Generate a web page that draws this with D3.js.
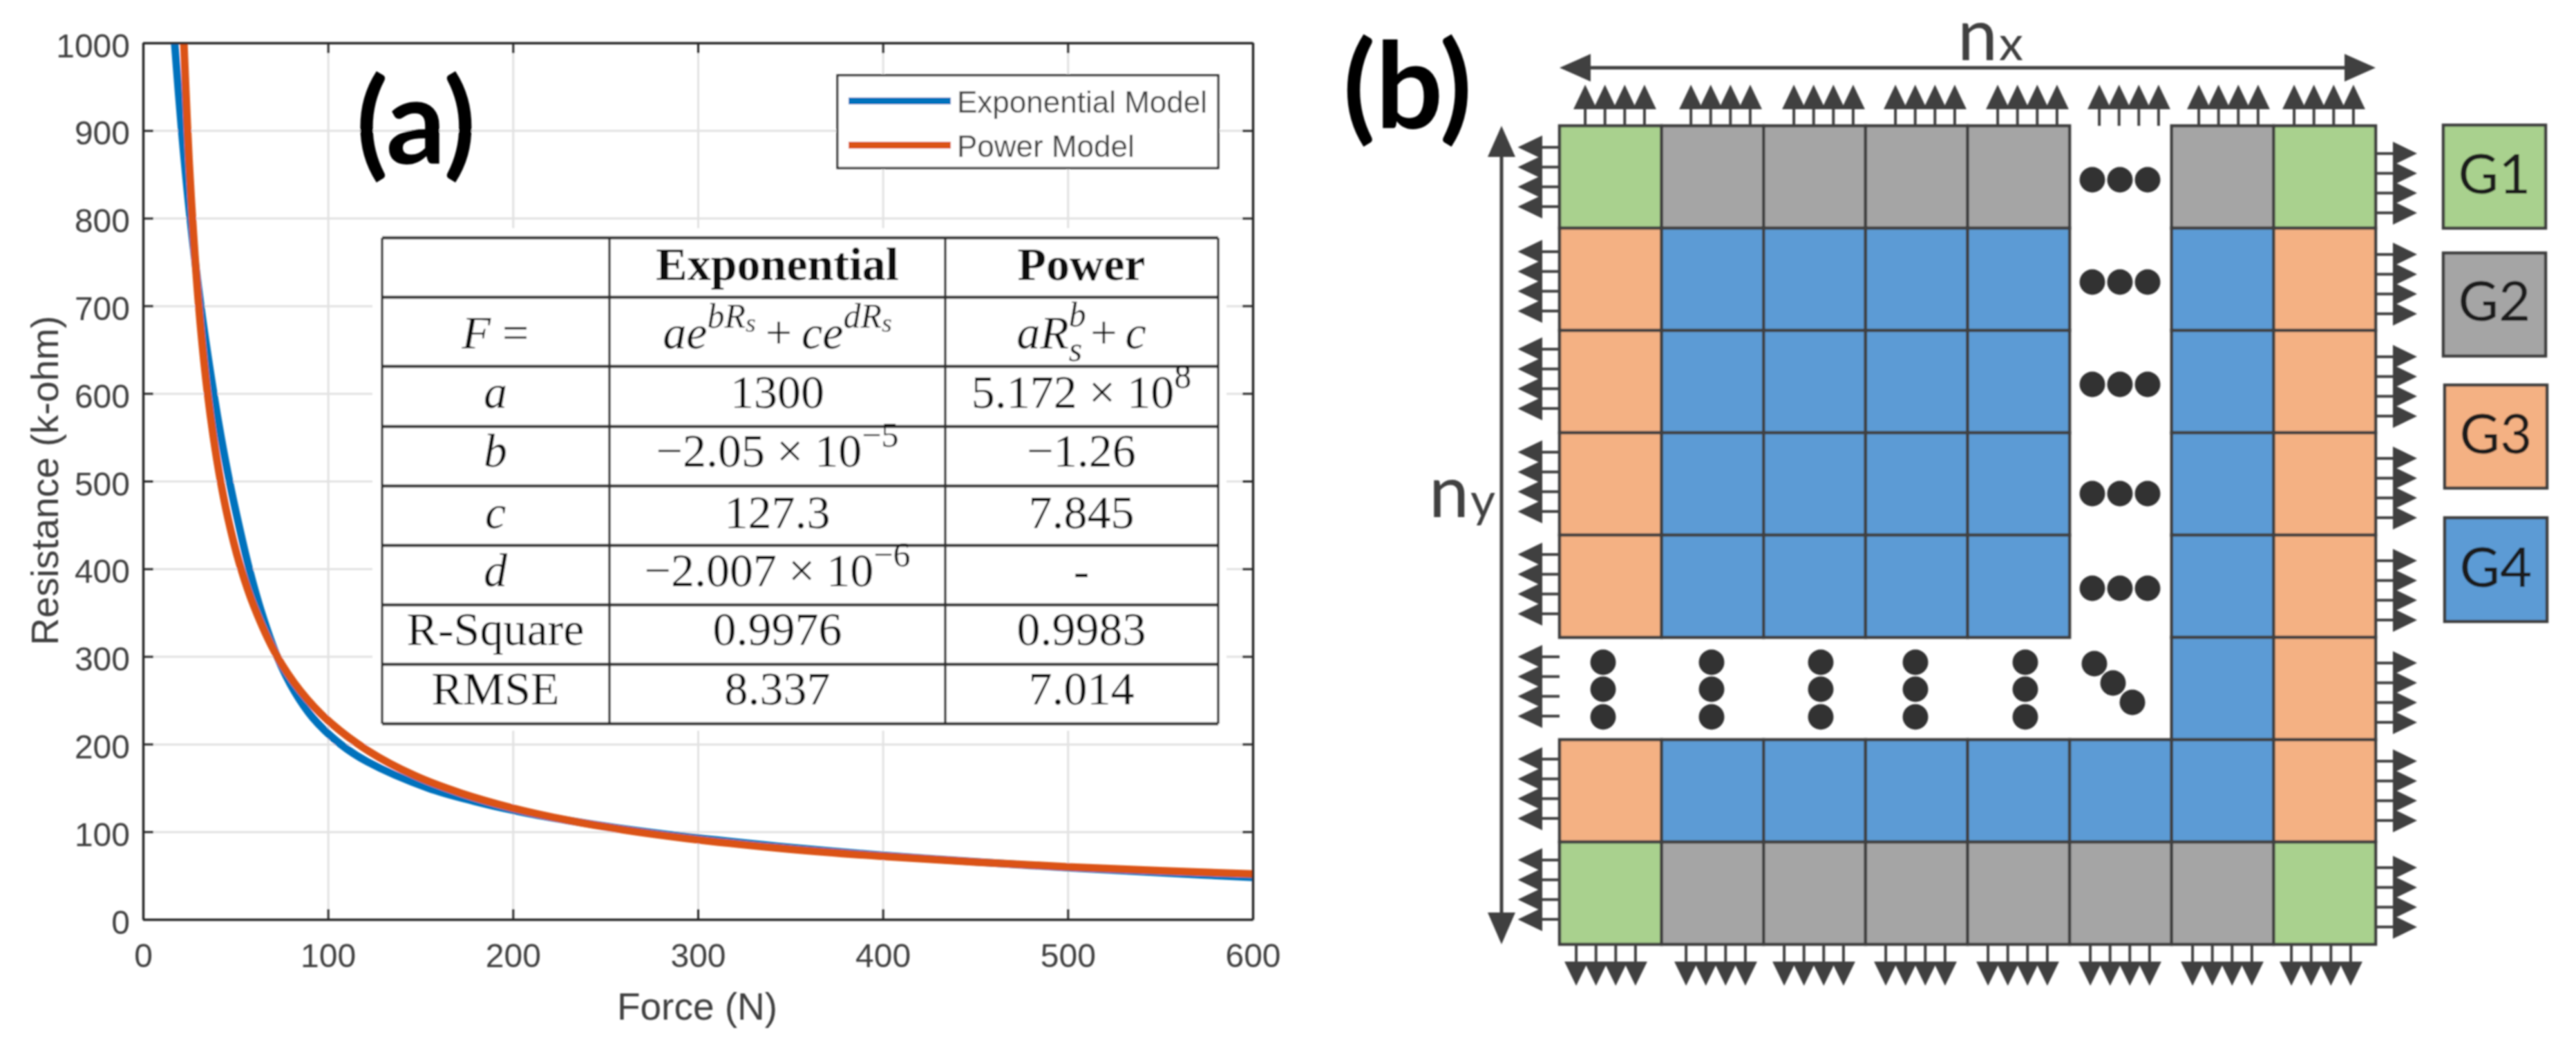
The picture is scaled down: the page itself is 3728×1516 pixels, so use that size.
<!DOCTYPE html>
<html><head><meta charset="utf-8">
<style>html,body{margin:0;padding:0;background:#fff}svg{display:block}</style>
<script src="https://cdn.jsdelivr.net/npm/d3@7/dist/d3.min.js"></script>
</head><body>
<svg id="c" width="3728" height="1516"></svg>
<script>
// ---------- chart data (panel a) ----------
const xTicks = [0,100,200,300,400,500,600];
const yTicks = [0,100,200,300,400,500,600,700,800,900,1000];
const expForce = [17.1,20.9,25.5,31.2,38.2,42.2,46.7,51.8,57.4,64.1,72.5,81.9,91.8,106.7,121.2,154,178.8,206,229.6,257.5,299,350,397,455,501,553,601];
const expRes   = [1000,900,800,700,600,550,500,450,400,350,300,260,230,200,180,150,135,122,113,104,93,82,73.6,65,59,53,48];
const powForce = [21.9,24,26,30,34,38,42,46,52,60,72,85,100,122,147,172,200,230,260,300,350,400,450,500,550,600];
const powRes   = [1009,904,824,703,616,551,499,457,407,357,302,261,227,192,164,144,127,113,102,90.8,80.1,71.9,65.4,60,55.6,51.8];
const seriesNames = ["Exponential Model","Power Model"];
const axisTitleX = "Force (N)", axisTitleY = "Resistance (k-ohm)";
// ---------- inset table ----------
const tableHead = ["","Exponential","Power"];
const rowNames = ["a","b","c","d","R-Square","RMSE"];
const expCol = ["1300","−2.05 × 10^−5","127.3","−2.007 × 10^−6","0.9976","8.337"];
const powCol = ["5.172 × 10^8","−1.26","7.845","-","0.9983","7.014"];
// ---------- diagram data (panel b) ----------
const cellGrid = [
 ["G1","G2","G2","G2","G2",null,"G2","G1"],
 ["G3","G4","G4","G4","G4",null,"G4","G3"],
 ["G3","G4","G4","G4","G4",null,"G4","G3"],
 ["G3","G4","G4","G4","G4",null,"G4","G3"],
 ["G3","G4","G4","G4","G4",null,"G4","G3"],
 [null,null,null,null,null,null,"G4","G3"],
 ["G3","G4","G4","G4","G4","G4","G4","G3"],
 ["G1","G2","G2","G2","G2","G2","G2","G1"]];
const groupNames = ["G1","G2","G3","G4"];
const groupColors = ["#A9D18E","#A5A5A5","#F4B183","#5B9BD5"];

// ---------- layout ----------
const svg = d3.select("#c");
const defs = svg.append("defs");
defs.append("filter").attr("id","softA").attr("x","-2%").attr("y","-2%").attr("width","104%").attr("height","104%").append("feGaussianBlur").attr("stdDeviation",1.3);
defs.append("filter").attr("id","softB").attr("x","-2%").attr("y","-2%").attr("width","104%").attr("height","104%").append("feGaussianBlur").attr("stdDeviation",0.8);
const X = d3.scaleLinear().domain([0,600]).range([207,1813]);
const Y = d3.scaleLinear().domain([0,1000]).range([1330,62]);
const sans = "'Liberation Sans',Arial,sans-serif", serif = "'Liberation Serif','Times New Roman',serif", cal = "Lato,'Open Sans',sans-serif";
const inkA = "#262626", textA="#404040", ink="#404040", dot="#333333";

// grid
const gA = svg.append("g").attr("filter","url(#softA)");
const noText = s=>s.selectAll("text").remove();
gA.append("g").attr("transform",`translate(0,${Y(0)})`)
  .call(d3.axisBottom(X).tickValues(xTicks.slice(1,-1)).tickSize(-(Y(0)-Y(1000))))
  .call(noText)
  .call(s=>{s.select(".domain").remove();s.selectAll("line").attr("stroke","#e2e2e2").attr("stroke-width",3);});
gA.append("g").attr("transform",`translate(${X(0)},0)`)
  .call(d3.axisLeft(Y).tickValues(yTicks.slice(1,-1)).tickSize(-(X(600)-X(0))))
  .call(noText)
  .call(s=>{s.select(".domain").remove();s.selectAll("line").attr("stroke","#e2e2e2").attr("stroke-width",3);});
// curves
const clipId="plotclip";
defs.append("clipPath").attr("id",clipId).append("rect").attr("x",X(0)).attr("y",Y(1000)).attr("width",X(600)-X(0)).attr("height",Y(0)-Y(1000));
const line = d3.line().x(d=>X(d[0])).y(d=>Y(d[1])).curve(d3.curveCatmullRom.alpha(0.5));
const curves = gA.append("g").attr("clip-path",`url(#${clipId})`);
curves.append("path").datum(d3.zip(expForce,expRes)).attr("d",line).attr("fill","none").attr("stroke","#0072BD").attr("stroke-width",11);
curves.append("path").datum(d3.zip(powForce,powRes)).attr("d",line).attr("fill","none").attr("stroke","#DB5314").attr("stroke-width",11);
// axes
function styleAxis(s){
  s.select(".domain").attr("stroke",inkA).attr("stroke-width",3.5);
  s.selectAll(".tick line").attr("stroke",inkA).attr("stroke-width",3);
  s.selectAll("text").attr("font-family",sans).attr("font-size",48).attr("fill",textA);
}
gA.append("g").attr("transform",`translate(0,${Y(0)})`)
  .call(d3.axisBottom(X).tickValues(xTicks).tickSizeInner(-15).tickSizeOuter(0).tickPadding(35).tickFormat(d3.format("d"))).call(styleAxis);
gA.append("g").attr("transform",`translate(0,${Y(1000)})`)
  .call(d3.axisTop(X).tickValues(xTicks).tickSizeInner(-15).tickSizeOuter(0)).call(noText).call(styleAxis);
gA.append("g").attr("transform",`translate(${X(0)},0)`)
  .call(d3.axisLeft(Y).tickValues(yTicks).tickSizeInner(-15).tickSizeOuter(0).tickPadding(19).tickFormat(d3.format("d"))).call(styleAxis)
  .call(s=>s.selectAll("text").attr("dy","0.42em"));
gA.append("g").attr("transform",`translate(${X(600)},0)`)
  .call(d3.axisRight(Y).tickValues(yTicks).tickSizeInner(-15).tickSizeOuter(0)).call(noText).call(styleAxis);
// axis titles
gA.append("text").text(axisTitleX).attr("x",1009).attr("y",1475).attr("text-anchor","middle").attr("font-family",sans).attr("font-size",55).attr("fill",textA);
gA.append("text").text(axisTitleY).attr("transform","translate(84,695) rotate(-90)").attr("text-anchor","middle").attr("font-family",sans).attr("font-size",55).attr("fill",textA);
// legend
gA.append("rect").attr("x",1212).attr("y",109).attr("width",551).attr("height",134).attr("fill","#fff").attr("stroke",inkA).attr("stroke-width",3);
const legY = [146,210], legC = ["#0072BD","#DB5314"], legT=[163,227];
seriesNames.forEach((n,i)=>{
  gA.append("line").attr("x1",1228).attr("x2",1376).attr("y1",legY[i]).attr("y2",legY[i]).attr("stroke",legC[i]).attr("stroke-width",10);
  gA.append("text").text(n).attr("x",1385).attr("y",legT[i]).attr("font-family",sans).attr("font-size",44).attr("fill",textA);
});
// inset table
const tx=[553,882,1368,1763], ty=[344,430,530,617,703,789,875,961,1047];
const tbl = gA.append("g");
tbl.append("rect").attr("x",539).attr("y",330).attr("width",1236).attr("height",727).attr("fill","#fff");
tbl.selectAll(".h").data(ty).join("line").attr("class","h").attr("x1",tx[0]).attr("x2",tx[3]).attr("y1",d=>d).attr("y2",d=>d).attr("stroke","#333").attr("stroke-width",4.5);
tbl.selectAll(".v").data(tx).join("line").attr("class","v").attr("y1",ty[0]).attr("y2",ty[8]).attr("x1",d=>d).attr("x2",d=>d).attr("stroke","#333").attr("stroke-width",3.5);
const cx=[717,1125,1565], base=[405,504,590,675,764,848,933,1019];
const fs=68, sup=50, sub2=38;
function tt(x,y){return tbl.append("text").attr("x",x).attr("y",y).attr("text-anchor","middle").attr("font-family",serif).attr("font-size",fs).attr("fill","#0c0c0c");}
tableHead.forEach((h,i)=>{ if(h) tt(cx[i],base[0]).attr("font-weight","bold").text(h); });
function math(t,parts){ parts.forEach(p=>{ const s=t.append("tspan").text(p[0]); if(p[1]) s.attr("font-style","italic"); if(p[2]) s.attr("font-size",p[2]); if(p[3]) s.attr("dy",p[3]); if(p[4]) s.attr("dx",p[4]); }); }
math(tt(cx[0],base[1]),[["F",1],[" ="]]);
math(tt(cx[1],base[1]),[["ae",1],["bR",1,sup,-30],["s",1,sub2,6],["+",0,fs,24,14],["ce",1,fs,0,14],["dR",1,sup,-30],["s",1,sub2,6]]);
math(tt(cx[2],base[1]),[["aR",1],["b",1,sup,-32],["s",1,sup,50,-25],["+",0,fs,-18,12],["c",1,fs,0,12]]);
function val(x,y,s){
  const t=tt(x,y); const p=s.split("^");
  if(p.length==1){t.text(s);return;}
  t.append("tspan").text(p[0]); t.append("tspan").text(p[1]).attr("font-size",sup).attr("dy",-29);
}
rowNames.forEach((r,i)=>{
  const y=base[i+2];
  const t=tt(cx[0],y).text(r); if(i<4) t.attr("font-style","italic");
  val(cx[1],y,expCol[i]); val(cx[2],y,powCol[i]);
});
// panel labels
gA.append("text").text("(a)").attr("x",602).attr("y",237).attr("text-anchor","middle").attr("font-family",cal).attr("font-weight",700).attr("font-size",170).attr("fill","#000");
const gB = svg.append("g").attr("filter","url(#softB)");
gB.append("text").text("(b)").attr("x",2037).attr("y",185).attr("text-anchor","middle").attr("font-family",cal).attr("font-weight",700).attr("font-size",172).attr("fill","#000");

// ---------- panel b ----------
const C = d3.scaleLinear().domain([0,8]).range([2257,3438]);
const R = d3.scaleLinear().domain([0,8]).range([182,1366]);
const color = d3.scaleOrdinal().domain(groupNames).range(groupColors);
const cells = cellGrid.flatMap((row,r)=>row.map((g,c)=>({g,r,c}))).filter(d=>d.g);
gB.selectAll("rect.cell").data(cells).join("rect").attr("class","cell")
  .attr("x",d=>C(d.c)).attr("y",d=>R(d.r)).attr("width",d=>C(d.c+1)-C(d.c)).attr("height",d=>R(d.r+1)-R(d.r))
  .attr("fill",d=>color(d.g)).attr("stroke",ink).attr("stroke-width",4.5);
// small arrows
const topC=[2337,2490,2639,2786,2934,3081,3225,3363], botC=[2324,2483,2625,2772,2920,3068,3216,3359];
const leftC=[256,407,548,697,845,993,1141,1287], rightC=[265,411,559,706,854,1002,1144,1298];
const offs=[-1.5,-.5,.5,1.5], sp=28.6, hw=17;
const arrows=[];
topC.forEach(c=>offs.forEach(o=>{const x=c+o*sp; arrows.push({l:[x,182,x,157],t:[[x,122.5],[x-hw,158],[x+hw,158]]});}));
botC.forEach(c=>offs.forEach(o=>{const x=c+o*sp; arrows.push({l:[x,1366,x,1392],t:[[x,1426],[x-hw,1391],[x+hw,1391]]});}));
leftC.forEach(c=>offs.forEach(o=>{const y=c+o*sp; arrows.push({l:[2257,y,2231,y],t:[[2196.5,y],[2232,y-hw],[2232,y+hw]]});}));
rightC.forEach(c=>offs.forEach(o=>{const y=c+o*sp; arrows.push({l:[3438,y,3464,y],t:[[3498,y],[3463,y-hw],[3463,y+hw]]});}));
gB.selectAll("line.s").data(arrows).join("line").attr("class","s").attr("x1",d=>d.l[0]).attr("y1",d=>d.l[1]).attr("x2",d=>d.l[2]).attr("y2",d=>d.l[3]).attr("stroke",ink).attr("stroke-width",4);
gB.selectAll("polygon.a").data(arrows).join("polygon").attr("class","a").attr("points",d=>d.t.join(" ")).attr("fill",ink);
// dimension arrows
gB.append("line").attr("x1",2290).attr("x2",3405).attr("y1",98).attr("y2",98).attr("stroke",ink).attr("stroke-width",5);
gB.append("polygon").attr("points","2257,98 2302,78 2302,118").attr("fill",ink);
gB.append("polygon").attr("points","3438,98 3393,78 3393,118").attr("fill",ink);
gB.append("line").attr("x1",2173).attr("x2",2173).attr("y1",215).attr("y2",1335).attr("stroke",ink).attr("stroke-width",5);
gB.append("polygon").attr("points","2173,182 2153,227 2193,227").attr("fill",ink);
gB.append("polygon").attr("points","2173,1366 2153,1320 2193,1320").attr("fill",ink);
// dots
const dotCols=[3028,3068,3108], dotRows=[260,408,556,714,851];
const dotX=[2320,2477,2635,2772,2931], dotY=[958,997,1037], diagX=[3031,3058,3086], diagY=[960,988,1016];
const dots=[];
dotRows.forEach(y=>dotCols.forEach(x=>dots.push([x,y])));
dotX.forEach(x=>dotY.forEach(y=>dots.push([x,y])));
diagX.forEach((x,i)=>dots.push([x,diagY[i]]));
gB.selectAll("circle").data(dots).join("circle").attr("cx",d=>d[0]).attr("cy",d=>d[1]).attr("r",18.5).attr("fill",dot);
// nx, ny
function sub(x,y,a,b){const t=gB.append("text").attr("x",x).attr("y",y).attr("font-family",cal).attr("fill",ink);
 t.append("tspan").text(a).attr("font-size",104); t.append("tspan").text(b).attr("font-size",70).attr("dx",2);}
sub(2833,87,"n","x"); sub(2068,748,"n","y");
// legend boxes
const lb=[[3536,181,148,149],[3536,366,148,149],[3538,557,148,149],[3538,749,148,150]], lbT=[280,464,656,849];
groupNames.forEach((g,i)=>{
  gB.append("rect").attr("x",lb[i][0]).attr("y",lb[i][1]).attr("width",lb[i][2]).attr("height",lb[i][3]).attr("fill",groupColors[i]).attr("stroke",ink).attr("stroke-width",4.5);
  gB.append("text").text(g).attr("x",lb[i][0]+lb[i][2]/2).attr("y",lbT[i]).attr("text-anchor","middle").attr("font-family",cal).attr("font-size",80).attr("fill","#1a1a1a");
});
</script>
</body></html>
